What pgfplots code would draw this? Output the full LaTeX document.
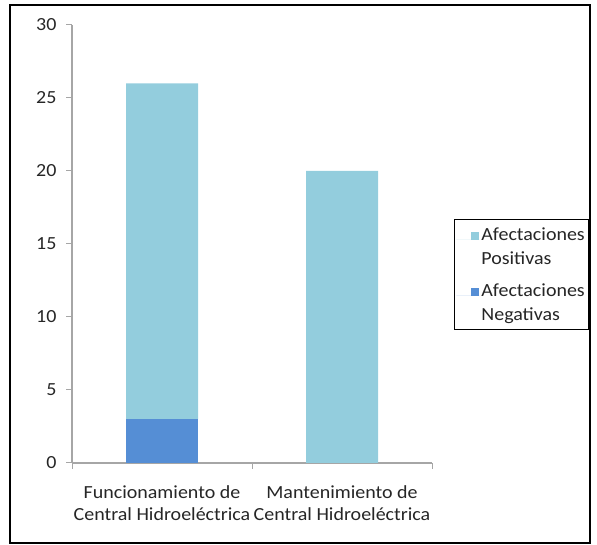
\documentclass[border=0pt]{standalone}
\usepackage{fontspec}
\setmainfont[FakeStretch=1.08]{Carlito}
\usepackage{pgfplots}
\pgfplotsset{compat=1.18}
\definecolor{pos}{HTML}{93CDDD}
\definecolor{neg}{HTML}{558ED5}
\definecolor{axisgray}{HTML}{A6A6A6}
\definecolor{txt}{HTML}{262626}

\begin{document}
\begin{tikzpicture}
\useasboundingbox (0pt,0pt) rectangle (597pt,545pt);
\draw[black, line width=1.5pt] (10pt,2pt) rectangle (590pt,540pt);
\begin{axis}[
  at={(72pt,82pt)}, anchor=south west,
  scale only axis, width=360pt, height=438pt,
  ymin=0, ymax=30, xmin=-0.5, xmax=1.5,
  ybar stacked, bar width=72pt,
  axis lines=left, axis line style={-, draw=axisgray, line width=1.2pt},
  ytick={0,5,...,30},
  ytick style={draw=axisgray, line width=1pt},
  tick align=outside, major tick length=6pt, minor tick length=6pt,
  xtick={0,1},
  xticklabels={Funcionamiento de\\Central Hidroeléctrica, Mantenimiento de\\Central Hidroeléctrica},
  major x tick style={draw=none},
  minor xtick={-0.5,0.5,1.5},
  minor x tick style={draw=axisgray, line width=1pt},
  x tick label style={align=center, text=txt, font=\fontsize{18.5}{22}\selectfont, yshift=-13pt},
  y tick label style={text=txt, font=\fontsize{18.5}{22}\selectfont, xshift=-6pt},
  /pgf/number format/assume math mode=true,
  reverse legend,
  legend style={at={(rel axis cs:1.0611,0.557)}, anchor=north west,
    draw=black, line width=0.8pt, fill=white,
    font=\fontsize{18.5}{24}\selectfont, text=txt,
    nodes={align=left}, row sep=14pt, inner xsep=2pt, inner ysep=6pt,
    column sep=0pt},
  legend image code/.code={%
    \path (0pt,7pt) -- (23pt,7pt);
    \fill[#1] (15pt,7pt) rectangle (23pt,15pt);},
  legend cell align=left,
]
\addplot[fill=neg, draw=none] coordinates {(0,3) (1,0)};
\addplot[fill=pos, draw=none] coordinates {(0,23) (1,20)};
\legend{Afectaciones\\Negativas, Afectaciones\\Positivas}
\end{axis}
\end{tikzpicture}
\end{document}
